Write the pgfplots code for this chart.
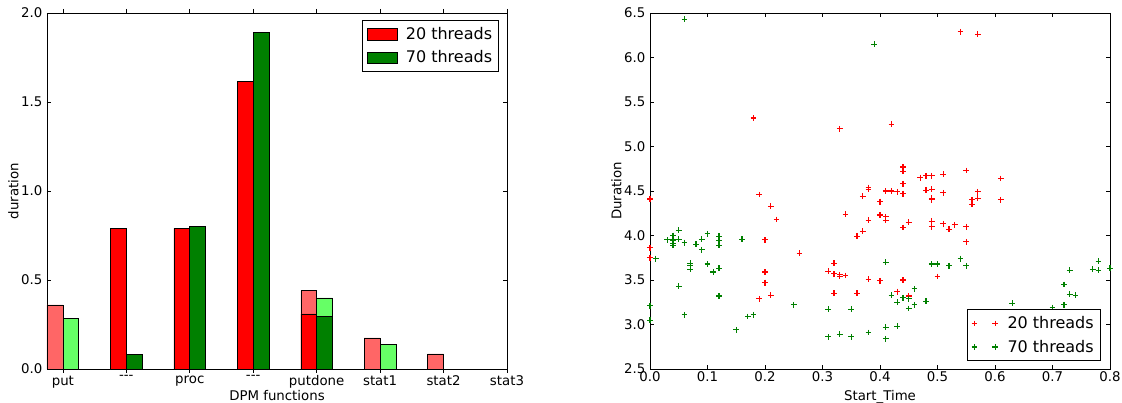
\documentclass[border=0pt]{standalone}
\usepackage{fontspec}
\setmainfont{DejaVu Sans}
\usepackage{pgfplots}
\pgfplotsset{compat=1.18}
\definecolor{lred}{RGB}{255,102,102}
\definecolor{lgreen}{RGB}{102,255,102}
\definecolor{dgreen}{RGB}{0,128,0}
\begin{document}
\fontsize{10}{12}\selectfont
\begin{tikzpicture}
\useasboundingbox (-35.25pt,-25.5pt) rectangle (806.25pt,276.75pt);
\pgfplotsset{
  common/.style={
    scale only axis, width=345pt, height=267pt,
    /pgf/number format/assume math mode=true,
    tick label style={font=\fontsize{10}{12}\selectfont},
    xticklabel style={yshift=1.5pt},
    label style={font=\fontsize{10}{12}\selectfont},
    major tick length=3pt,
    tick align=inside,
    axis line style={line width=0.7pt},
    every tick/.style={black, line width=0.5pt},
    xlabel style={at={(axis description cs:0.5,-0.088)}, anchor=base},
    ylabel style={yshift=-5pt},
    legend style={font=\fontsize{12}{14}\selectfont, draw=black, line width=0.6pt, inner sep=3pt, row sep=3pt},
    legend cell align=left,
  }
}
\begin{axis}[common,
  xmin=-0.25, xmax=7, ymin=0, ymax=2,
  xtick={0,1,2,3,4,5,6,7},
  xticklabels={put,{-}{-}{-},proc,{-}{-}{-},putdone,stat1,stat2,stat3},
  ytick={0,0.5,1,1.5,2},
  yticklabel style={/pgf/number format/.cd, fixed, fixed zerofill, precision=1},
  xlabel={DPM functions}, ylabel={duration},
  legend style={at={(0.983,0.98)}, anchor=north east},
  ybar, bar width=0.25,
  legend image code/.code={\draw[#1, bar shift=0pt] (0cm,-0.15cm) rectangle (0.8cm,0.15cm); \path[draw=none,fill=none] (0cm,0cm) -- (0.95cm,0cm);},
]
\addplot[forget plot, fill=lred, draw=black, bar shift=-0.125] coordinates {(0,0.36) (4,0.44) (5,0.175) (6,0.085)};
\addplot[forget plot, fill=lgreen, draw=black, bar shift=0.125] coordinates {(0,0.285) (4,0.40) (5,0.14)};
\addplot[fill=red, draw=black, bar shift=-0.125] coordinates {(1,0.79) (2,0.79) (3,1.617) (4,0.31)};
\addlegendentry{20 threads}
\addplot[fill=dgreen, draw=black, bar shift=0.125] coordinates {(1,0.08) (2,0.80) (3,1.89) (4,0.295)};
\addlegendentry{70 threads}
\end{axis}
\begin{axis}[common, at={(452.25pt,0pt)},
  xmin=0, xmax=0.8, ymin=2.5, ymax=6.5,
  xtick={0,0.1,...,0.8},
  ytick={2.5,3,...,6.5},
  xticklabel style={/pgf/number format/.cd, fixed, fixed zerofill, precision=1},
  yticklabel style={/pgf/number format/.cd, fixed, fixed zerofill, precision=1},
  xlabel={Start\_Time}, ylabel={Duration},
  legend style={at={(0.98,0.022)}, anchor=south east},
  legend image code/.code={\draw[mark repeat=1,mark phase=1] plot coordinates {(0.05cm,0cm) (0.6cm,0cm)}; \path[draw=none,fill=none] (0cm,0cm) -- (0.85cm,0cm);},
]
\addplot[only marks, mark=+, mark size=2.2pt, color=red, line width=0.8pt] coordinates {
(0.00,4.41) (0.00,3.86) (0.00,3.75)
(0.18,5.32) (0.19,4.46) (0.21,4.33) (0.22,4.18) (0.20,3.95) (0.26,3.80) (0.20,3.59) (0.20,3.47) (0.21,3.33) (0.19,3.29)
(0.33,5.20) (0.34,4.24) (0.32,3.69) (0.31,3.60) (0.32,3.57) (0.33,3.56) (0.33,3.54) (0.34,3.55) (0.32,3.35) (0.36,3.35)
(0.36,3.99) (0.37,4.05) (0.38,4.17) (0.40,4.23) (0.41,4.21) (0.41,4.17) (0.37,4.44) (0.38,4.54) (0.38,4.52) (0.40,4.38)
(0.41,4.50) (0.42,4.50) (0.43,4.49)
(0.38,3.51) (0.40,3.49) (0.44,3.50) (0.43,3.37) (0.45,3.32) (0.50,3.54)
(0.42,5.25) (0.44,4.77) (0.44,4.72) (0.44,4.58) (0.44,4.47) (0.44,4.09) (0.45,4.15)
(0.47,4.65) (0.48,4.67) (0.49,4.67) (0.51,4.69) (0.55,4.73) (0.61,4.64)
(0.48,4.51) (0.49,4.52) (0.49,4.42) (0.49,4.40)
(0.51,4.48) (0.57,4.49) (0.57,4.42) (0.56,4.40) (0.56,4.35) (0.61,4.40)
(0.49,4.16) (0.49,4.10) (0.51,4.13) (0.52,4.07) (0.53,4.12) (0.55,4.10) (0.55,3.93)
(0.54,6.29) (0.57,6.26)
};
\addlegendentry{20 threads}
\addplot[only marks, mark=+, mark size=2.2pt, color=dgreen, line width=0.8pt] coordinates {
(0.00,3.21) (0.00,3.05) (0.01,3.74)
(0.03,3.95) (0.04,3.94) (0.04,3.96) (0.04,4.00) (0.04,3.91) (0.04,3.89) (0.05,4.06) (0.05,3.96) (0.06,3.92)
(0.05,3.43) (0.06,3.11) (0.06,6.43)
(0.07,3.69) (0.07,3.66) (0.07,3.62) (0.08,3.90) (0.09,3.96) (0.09,3.84) (0.10,4.02) (0.10,3.68) (0.11,3.59)
(0.12,3.99) (0.12,3.94) (0.12,3.89) (0.12,3.63) (0.12,3.32)
(0.16,3.96) (0.15,2.94) (0.17,3.09) (0.18,3.11) (0.25,3.22)
(0.31,3.17) (0.31,2.86) (0.33,2.89) (0.35,2.86) (0.35,3.17) (0.38,2.91) (0.41,2.84) (0.41,2.97) (0.43,2.98)
(0.39,6.15)
(0.41,3.70) (0.42,3.33) (0.43,3.25) (0.44,3.30) (0.45,3.29) (0.45,3.18) (0.46,3.40) (0.46,3.22) (0.48,3.26)
(0.49,3.68) (0.50,3.68) (0.52,3.66) (0.54,3.74) (0.55,3.66)
(0.63,3.24) (0.70,3.19) (0.72,3.45) (0.72,3.22) (0.72,3.11) (0.73,3.61) (0.73,3.34) (0.74,3.33)
(0.77,3.62) (0.78,3.61) (0.78,3.71) (0.80,3.63)
};
\addlegendentry{70 threads}
\end{axis}
\end{tikzpicture}
\end{document}
